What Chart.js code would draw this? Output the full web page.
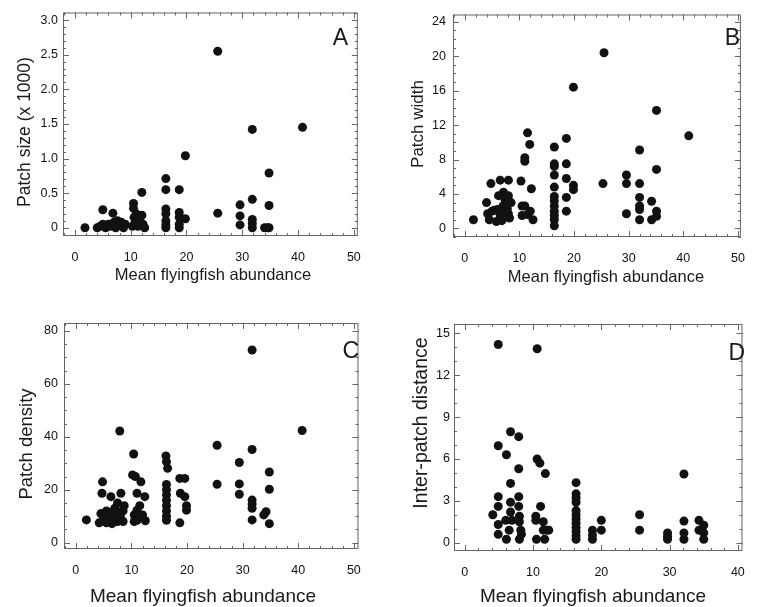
<!DOCTYPE html>
<html lang="en">
<head>
<meta charset="UTF-8">
<title>Flyingfish abundance and patch metrics</title>
<script src="https://cdn.jsdelivr.net/npm/chart.js@4.4.0/dist/chart.umd.min.js"></script>
<style>
    body { margin: 0; background: #fff; }
    .wrap { position: relative; width: 759px; height: 607px; overflow: hidden; }
    canvas { position: absolute; }
</style>
</head>
<body>
<div class="wrap">
    <canvas id="chartA" width="375" height="300" style="left:0;top:0"></canvas>
    <canvas id="chartB" width="379" height="300" style="left:380px;top:0"></canvas>
    <canvas id="chartC" width="375" height="307" style="left:0;top:300px"></canvas>
    <canvas id="chartD" width="379" height="307" style="left:380px;top:300px"></canvas>
</div>

<script>
// A: patch size (x 1000)
const sizeX = [1.8, 4.0, 4.5, 5.0, 5.0, 5.5, 6.0, 6.3, 6.8, 7.0, 7.3, 7.6, 8.0, 8.3, 8.7, 9.0,
    10.3, 10.5, 10.5, 10.6, 10.8, 11.0, 11.3, 11.6, 12.0, 12.0, 12.2, 12.5,
    16.3, 16.3, 16.3, 16.3, 16.3, 16.3, 16.3,
    18.7, 18.7, 18.7, 18.7, 18.7, 19.8, 19.8,
    25.6, 25.6, 29.6, 29.6, 29.6, 31.8, 31.8, 31.8, 31.8, 31.8, 34.0, 34.5, 34.8, 34.8, 34.8, 40.8];
const sizeY = [0, 0, 0.02, 0.26, 0.05, 0, 0.05, 0.02, 0.21, 0.08, 0, 0.1, 0.04, 0.08, 0, 0.05,
    0.02, 0.35, 0.28, 0.15, 0.08, 0.2, 0.02, 0.12, 0.51, 0.18, 0.05, 0,
    0.71, 0.55, 0.27, 0.2, 0.1, 0.04, 0,
    0.55, 0.22, 0.15, 0.05, 0, 0.13, 1.04,
    0.21, 2.55, 0.33, 0.17, 0.04, 1.42, 0.41, 0.12, 0.06, 0, 0, 0, 0.79, 0.32, 0, 1.45];

// B: patch width
const widthX = [1.6, 4.0, 4.2, 4.5, 4.8, 5.0, 5.4, 5.8, 6.2, 6.0, 6.5, 6.5, 6.8, 7.1, 7.0, 7.4, 7.5, 7.8, 8.0, 8.0, 8.0, 8.2, 8.5,
    10.3, 10.5, 10.5, 11.0, 11.0, 11.0, 11.5, 11.5, 11.9, 12.0, 12.2, 12.5,
    16.4, 16.4, 16.4, 16.4, 16.4, 16.4, 16.4, 16.4, 16.4, 16.4, 16.4, 16.4,
    18.6, 18.6, 18.6, 18.6, 18.6, 19.9, 19.9, 19.9,
    25.3, 25.5, 29.6, 29.6, 29.6, 32.0, 32.0, 32.0, 32.0, 32.0, 32.0,
    34.2, 34.2, 35.1, 35.1, 35.1, 35.1, 41.0];
const widthY = [1.0, 3.0, 1.7, 1.0, 5.2, 2.0, 2.1, 0.8, 3.8, 2.2, 5.6, 1.5, 0.9, 4.2, 2.6, 3.3, 1.8, 2.3, 5.6, 3.8, 1.7, 1.2, 3.0,
    5.5, 2.6, 1.5, 8.2, 7.8, 2.6, 11.1, 1.6, 9.75, 2.0, 4.6, 1.0,
    9.45, 7.5, 7.2, 6.2, 4.8, 3.7, 3.2, 2.6, 2.0, 1.5, 1.0, 0.3,
    10.45, 7.5, 5.8, 3.6, 2.0, 16.4, 5.0, 4.5,
    5.2, 20.4, 6.2, 5.2, 1.7, 9.1, 5.2, 3.6, 2.6, 2.2, 1.0,
    3.15, 1.0, 13.7, 6.85, 2.0, 1.4, 10.75];

// C: patch density
const densityX = [1.9, 4.2, 4.5, 4.7, 4.8, 5.0, 5.5, 5.5, 6.0, 6.0, 6.3, 6.5, 6.5, 7.0, 7.0, 7.3, 7.5, 7.5, 7.9, 8.0, 8.1, 8.5, 8.5, 8.7,
    10.2, 10.4, 10.5, 10.5, 10.7, 11.0, 11.0, 11.0, 11.5, 11.7, 12.0, 12.4, 12.5,
    16.2, 16.3, 16.5, 16.3, 16.3, 16.3, 16.3, 16.3, 16.3, 16.3, 16.3,
    18.7, 18.8, 18.7, 19.6, 19.6, 19.9, 19.9,
    25.4, 25.4, 29.4, 29.4, 29.4, 31.7, 31.7, 31.7, 31.7, 31.7, 31.7,
    33.8, 34.2, 34.8, 34.8, 34.8, 40.7];
const densityY = [8.6, 7.5, 11, 18.7, 23, 9, 7.5, 12, 10, 8, 17.4, 11.5, 7.2, 9.5, 13, 12, 8, 15, 42.2, 10, 18.7, 12, 8, 14,
    25.6, 33.5, 10.5, 8, 25, 18.7, 12.3, 8.5, 14, 23, 10.5, 17.4, 8.3,
    32.8, 30.6, 28.1, 22, 20, 18, 16, 14, 12, 10, 8.5,
    24.3, 18.7, 7.5, 24.3, 17.4, 14, 12.3,
    36.8, 22.1, 30.3, 22.2, 18.3, 72.8, 35.2, 16.1, 14.6, 13.0, 8.6,
    10.5, 11.7, 26.7, 20.2, 7.2, 42.4];

// D: inter-patch distance
const distX = [4.1, 4.9, 4.9, 4.9, 4.9, 4.9, 4.9, 6.0, 6.1, 6.1, 6.5, 6.7, 6.7, 6.7, 6.7, 6.9,
    7.9, 7.9, 7.9, 7.9, 8.0, 8.0, 8.2, 8.0, 8.3,
    10.4, 10.4, 10.5, 10.6, 10.6, 11.0, 11.1, 11.5, 11.8, 11.5, 12.0, 12.3, 11.7,
    16.3, 16.3, 16.3, 16.3, 16.3, 16.3, 16.3, 16.3, 16.3, 16.3, 16.3, 16.3,
    18.7, 18.7, 18.7, 20.0, 20.0, 25.6, 25.6, 29.7, 29.7, 29.7,
    32.1, 32.1, 32.1, 32.1, 34.3, 34.3, 35.0, 35.0, 35.0];
const distY = [2.0, 14.2, 6.95, 3.3, 2.6, 1.3, 0.6, 1.6, 6.3, 0.25, 0.9, 7.95, 4.25, 2.9, 2.2, 1.6,
    7.6, 5.3, 3.3, 2.6, 1.9, 1.5, 0.9, 0.25, 0.6,
    1.9, 1.6, 0.25, 13.9, 6.0, 5.7, 2.6, 1.5, 4.95, 0.9, 0.9, 0.9, 0.25,
    4.3, 3.5, 3.2, 2.9, 2.3, 2.0, 1.7, 1.4, 1.1, 0.8, 0.5, 0.25,
    0.9, 0.55, 0.25, 1.6, 0.9, 2.0, 0.9, 0.7, 0.45, 0.25,
    4.92, 1.55, 0.7, 0.25, 1.6, 0.9, 1.25, 0.7, 0.25];

// tick labels
const xTicks50 = [0, 10, 20, 30, 40, 50];
const xTicks40 = [0, 10, 20, 30, 40];
const sizeTicks = [0, 0.5, 1.0, 1.5, 2.0, 2.5, 3.0];
const widthTicks = [0, 4, 8, 12, 16, 20, 24];
const densityTicks = [0, 20, 40, 60, 80];
const distTicks = [0, 3, 6, 9, 12, 15];

const FONT = '"Liberation Sans", Arial, Helvetica, sans-serif';
Chart.defaults.font.family = FONT;

// frame, inward ticks, titles and panel letter
const panelPlugin = {
    id: 'panel',
    afterDraw(chart, args, o) {
        const ctx = chart.ctx;
        const a = chart.chartArea;
        const sx = chart.scales.x, sy = chart.scales.y;
        ctx.save();
        ctx.strokeStyle = '#666';
        ctx.lineWidth = 1;
        ctx.strokeRect(a.left + 0.5, a.top + 0.5, a.right - a.left - 1, a.bottom - a.top - 1);

        ctx.beginPath();
        function marks(scale, step, len) {
            for (let k = Math.ceil(scale.min / step - 1e-6); k * step <= scale.max + 1e-6; k++) {
                const p = Math.round(scale.getPixelForValue(k * step)) + 0.5;
                if (scale.axis === 'x') {
                    ctx.moveTo(p, a.bottom); ctx.lineTo(p, a.bottom - len);
                    ctx.moveTo(p, a.top); ctx.lineTo(p, a.top + len);
                } else {
                    ctx.moveTo(a.left, p); ctx.lineTo(a.left + len, p);
                    ctx.moveTo(a.right, p); ctx.lineTo(a.right - len, p);
                }
            }
        }
        marks(sx, o.xMinor, 3);
        marks(sx, o.xMajor, 6);
        marks(sy, o.yMinor, 3);
        marks(sy, o.yMajor, 6);
        ctx.stroke();

        ctx.fillStyle = '#1a1a1a';
        ctx.textAlign = 'center';
        ctx.textBaseline = 'middle';
        ctx.font = o.xTitleSize + 'px ' + FONT;
        ctx.fillText(o.xTitle, o.xTitleAt[0], o.xTitleAt[1]);

        ctx.save();
        ctx.translate(o.yTitleAt[0], o.yTitleAt[1]);
        ctx.rotate(-Math.PI / 2);
        ctx.font = o.yTitleSize + 'px ' + FONT;
        ctx.fillText(o.yTitle, 0, 0);
        ctx.restore();

        ctx.textAlign = 'right';
        ctx.textBaseline = 'alphabetic';
        ctx.font = '23px ' + FONT;
        ctx.fillText(o.letter, o.letterAt[0], o.letterAt[1]);
        ctx.restore();
    }
};

function makePanel(id, xs, ys, cfg) {
    const points = xs.map((x, i) => ({ x: x, y: ys[i] }));
    const tickFont = { family: FONT, size: 12.5 };
    return new Chart(document.getElementById(id), {
        type: 'scatter',
        data: {
            datasets: [{
                data: points,
                backgroundColor: '#111',
                borderWidth: 0,
                pointRadius: 4.5
            }]
        },
        options: {
            responsive: false,
            animation: false,
            events: [],
            devicePixelRatio: 1,
            layout: { padding: { top: cfg.padTop, right: cfg.padRight, bottom: 0, left: 0 } },
            plugins: {
                legend: { display: false },
                tooltip: { enabled: false },
                panel: cfg.panel
            },
            scales: {
                x: {
                    type: 'linear',
                    min: cfg.xRange[0],
                    max: cfg.xRange[1],
                    grid: { display: false, drawTicks: false },
                    border: { display: false },
                    afterBuildTicks: s => { s.ticks = cfg.xTicks.map(v => ({ value: v })); },
                    afterFit: s => { s.height = cfg.xHeight; },
                    ticks: { padding: cfg.xPad, color: '#111', font: tickFont, autoSkip: false, maxRotation: 0 }
                },
                y: {
                    type: 'linear',
                    min: cfg.yRange[0],
                    max: cfg.yRange[1],
                    grid: { display: false, drawTicks: false },
                    border: { display: false },
                    afterBuildTicks: s => { s.ticks = cfg.yTicks.map(v => ({ value: v })); },
                    afterFit: s => { s.width = cfg.yWidth; },
                    ticks: {
                        padding: cfg.yPad, color: '#111', font: tickFont, autoSkip: false,
                        callback: cfg.yLabel || (v => String(v))
                    }
                }
            }
        },
        plugins: [panelPlugin]
    });
}

makePanel('chartA', sizeX, sizeY, {
    padTop: 11, padRight: 16, yWidth: 63, xHeight: 64, xPad: 14, yPad: 5,
    xRange: [-2.14, 50.71], yRange: [-0.12, 3.11],
    xTicks: xTicks50, yTicks: sizeTicks,
    yLabel: v => (v === 0 ? '0' : v.toFixed(1)),
    panel: {
        xMajor: 10, xMinor: 2, yMajor: 0.5, yMinor: 0.1,
        xTitle: 'Mean flyingfish abundance', xTitleAt: [213, 275], xTitleSize: 16.5,
        yTitle: 'Patch size (x 1000)', yTitleAt: [25, 132], yTitleSize: 17.5,
        letter: 'A', letterAt: [348, 45]
    }
});

makePanel('chartB', widthX, widthY, {
    padTop: 12, padRight: 11, yWidth: 73, xHeight: 63, xPad: 14, yPad: 7,
    xRange: [-2.14, 50.54], yRange: [-1.0, 24.84],
    xTicks: xTicks50, yTicks: widthTicks,
    panel: {
        xMajor: 10, xMinor: 2, yMajor: 4, yMinor: 1,
        xTitle: 'Mean flyingfish abundance', xTitleAt: [226, 277], xTitleSize: 16.5,
        yTitle: 'Patch width', yTitleAt: [38, 124], yTitleSize: 17,
        letter: 'B', letterAt: [360, 45]
    }
});

makePanel('chartC', densityX, densityY, {
    padTop: 23, padRight: 12, yWidth: 64, xHeight: 58, xPad: 14, yPad: 6,
    xRange: [-2.13, 50.83], yRange: [-2.38, 83.0],
    xTicks: xTicks50, yTicks: densityTicks,
    panel: {
        xMajor: 10, xMinor: 2, yMajor: 20, yMinor: 5,
        xTitle: 'Mean flyingfish abundance', xTitleAt: [203, 297], xTitleSize: 19,
        yTitle: 'Patch density', yTitleAt: [27, 144], yTitleSize: 18.5,
        letter: 'C', letterAt: [359, 58]
    }
});

makePanel('chartD', distX, distY, {
    padTop: 24, padRight: 11, yWidth: 74, xHeight: 56, xPad: 14, yPad: 4,
    xRange: [-1.58, 40.67], yRange: [-0.595, 15.67],
    xTicks: xTicks40, yTicks: distTicks,
    panel: {
        xMajor: 10, xMinor: 2, yMajor: 3, yMinor: 1,
        xTitle: 'Mean flyingfish abundance', xTitleAt: [213, 297], xTitleSize: 19,
        yTitle: 'Inter-patch distance', yTitleAt: [42, 123], yTitleSize: 19.5,
        letter: 'D', letterAt: [365, 60]
    }
});
</script>
</body>
</html>
